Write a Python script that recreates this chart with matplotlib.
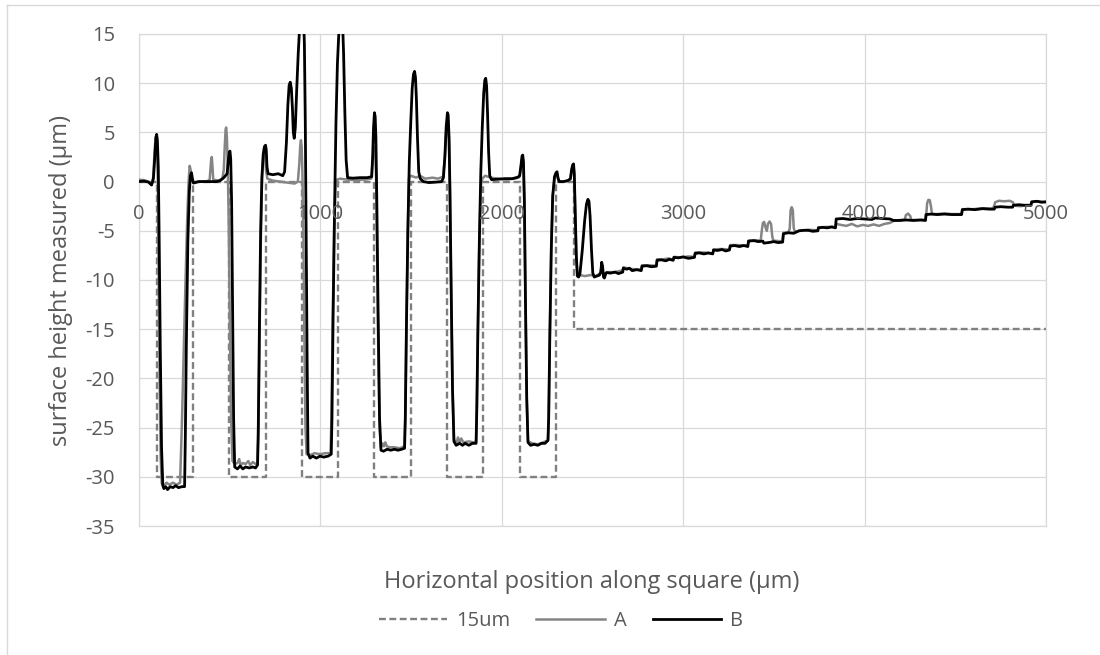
import matplotlib
matplotlib.use("Agg")
import matplotlib.pyplot as plt
from matplotlib.lines import Line2D

plt.rcParams["font.family"] = ["Open Sans", "DejaVu Sans"]

# ---- data -----------------------------------------------------------------
series_names = ["15um", "A", "B"]

# designed 15 um profile: six 30 um deep trenches, then a -15 um plateau
design_pos = [0, 100, 100, 300, 300, 500, 500, 700, 700, 900, 900, 1100, 1100,
              1300, 1300, 1500, 1500, 1700, 1700, 1900, 1900, 2100, 2100, 2300,
              2300, 2400, 2400, 5000]
design_height = [0, 0, -30, -30, 0, 0, -30, -30, 0, 0, -30, -30, 0,
                 0, -30, -30, 0, 0, -30, -30, 0, 0, -30, -30,
                 0, 0, -15, -15]

# measured profile A (position um, height um)
profile_a = [
    (0, 0.2), (30, 0.15), (55, 0.0), (72, -0.3), (82, 0.5), (88, 3), (94, 4.4), (98, 4.6),
    (102, 3.5), (106, 0.5), (110, -8), (116, -20), (122, -28), (128, -30.7), (140, -30.9),
    (155, -30.6), (170, -30.8), (190, -30.6), (210, -30.8), (229, -30.6), (240, -24),
    (255, -13), (268, -4), (276, 0), (282, 1.6), (287, 1.2), (292, 0.3), (300, -0.1),
    (340, 0.0), (380, 0.05), (392, 0.2), (397, 1.4), (401, 2.4), (404, 2.5), (408, 1.3),
    (412, 0.2), (440, 0.1), (462, 0.3), (470, 1.2), (475, 3.5), (480, 5.3), (483, 5.5),
    (487, 4.5), (492, 1.5), (497, -4), (503, -14), (510, -24), (518, -28.4), (530, -28.7),
    (545, -28.6), (555, -28.2), (562, -28.8), (575, -28.6), (590, -28.7), (605, -28.4),
    (615, -28.8), (630, -28.5), (645, -28.7), (655, -28.6), (660, -26), (666, -17),
    (673, -7), (680, 0), (686, 2.8), (692, 3.5), (696, 3.3), (702, 1.2), (710, 0.3),
    (740, 0.1), (780, 0.0), (820, -0.1), (860, -0.2), (878, 0.0), (886, 1.8), (891, 3.6),
    (895, 4.2), (899, 3.5), (903, 1.0), (908, -5), (914, -16), (920, -25), (926, -27.7),
    (945, -27.8), (970, -27.6), (1000, -27.7), (1030, -27.6), (1058, -27.6), (1063, -24),
    (1070, -14), (1078, -5), (1086, -0.5), (1094, 0.2), (1110, 0.3), (1150, 0.2),
    (1200, 0.15), (1250, 0.2), (1282, 0.3), (1290, 2), (1296, 3.3), (1301, 3.5),
    (1305, 2.8), (1309, 0.5), (1314, -6), (1320, -16), (1328, -25), (1336, -27.0),
    (1345, -26.6), (1352, -26.9), (1360, -26.5), (1368, -26.9), (1385, -27.0),
    (1410, -27.0), (1440, -27.1), (1465, -26.9), (1470, -24), (1476, -15), (1484, -5),
    (1490, 0.3), (1500, 0.6), (1515, 0.5), (1530, 0.4), (1550, 0.6), (1580, 0.3),
    (1620, 0.4), (1650, 0.3), (1678, 0.5), (1688, 2.5), (1695, 5), (1701, 6.4),
    (1706, 6.2), (1711, 4), (1716, -1), (1722, -10), (1730, -21), (1738, -26.2),
    (1752, -26.6), (1760, -26.0), (1768, -26.5), (1778, -26.1), (1790, -26.5),
    (1820, -26.4), (1845, -26.5), (1860, -26.4), (1864, -23), (1870, -15), (1878, -6),
    (1886, -0.5), (1894, 0.3), (1910, 0.6), (1940, 0.4), (1980, 0.3), (2030, 0.2),
    (2070, 0.3), (2092, 0.4), (2100, 0.5), (2107, 1.5), (2113, 2.3), (2117, 2.4),
    (2121, 1.8), (2126, -2), (2132, -12), (2139, -22), (2146, -26.4), (2170, -26.6),
    (2200, -26.7), (2230, -26.5), (2256, -26.3), (2260, -24), (2266, -16), (2274, -7),
    (2282, -1.5), (2292, 0.3), (2300, 0.7), (2306, 0.8), (2311, 0.3), (2318, 0.0),
    (2350, 0.0), (2378, 0.2), (2386, 1.0), (2392, 1.5), (2397, 1.6), (2401, 0.7),
    (2406, -3), (2412, -7.5), (2418, -9.4), (2430, -9.5), (2460, -9.6), (2490, -9.5),
    (2520, -9.6), (2545, -9.3), (2552, -8.6), (2558, -9.3), (2570, -9.5), (2580, -9.2),
    (2620, -9.2), (2650, -9.1), (2668, -9.0), (2672, -8.7), (2700, -8.85), (2730, -8.9),
    (2770, -8.95), (2774, -8.5), (2810, -8.5), (2853, -8.55), (2857, -7.9), (2890, -7.9),
    (2920, -7.8), (2946, -7.95), (2950, -7.65), (2990, -7.7), (3030, -7.6), (3063, -7.65),
    (3067, -7.2), (3110, -7.2), (3164, -7.3), (3168, -6.9), (3210, -6.85), (3256, -6.9),
    (3260, -6.45), (3300, -6.45), (3357, -6.5), (3361, -6.0), (3400, -5.95), (3428, -6.0),
    (3434, -5.0), (3440, -4.2), (3447, -4.1), (3454, -4.6), (3462, -5.0), (3468, -4.3),
    (3477, -4.05), (3485, -4.3), (3492, -5.6), (3498, -6.0), (3530, -6.05), (3549, -6.05),
    (3553, -5.2), (3580, -5.15), (3588, -4.8), (3593, -2.9), (3599, -2.6), (3605, -2.9),
    (3610, -4.7), (3616, -5.1), (3640, -5.0), (3690, -4.9), (3743, -4.95), (3746, -4.65),
    (3800, -4.6), (3840, -4.65), (3844, -4.3), (3870, -4.4), (3900, -4.5), (3930, -4.3),
    (3960, -4.55), (3990, -4.4), (4020, -4.5), (4050, -4.35), (4080, -4.5), (4110, -4.3),
    (4140, -4.2), (4165, -3.95), (4200, -3.9), (4222, -3.85), (4228, -3.4), (4240, -3.25),
    (4252, -3.5), (4258, -3.9), (4300, -3.9), (4336, -3.9), (4340, -3.4), (4345, -2.2),
    (4352, -1.85), (4360, -1.9), (4366, -2.5), (4372, -3.3), (4400, -3.3), (4440, -3.25),
    (4480, -3.3), (4535, -3.3), (4539, -2.8), (4600, -2.8), (4650, -2.7), (4700, -2.75),
    (4712, -2.6), (4720, -2.1), (4740, -1.95), (4770, -2.0), (4800, -1.95), (4818, -2.1),
    (4825, -2.45), (4860, -2.5), (4890, -2.4), (4917, -2.45), (4921, -2.1), (4960, -2.0),
    (5000, -2.1),
]

# measured profile B (position um, height um)
profile_b = [
    (0, 0.0), (30, 0.05), (55, -0.05), (72, -0.35), (82, 0.3), (90, 2.5), (96, 4.5),
    (100, 4.8), (104, 4.2), (109, 1.5), (114, -6), (120, -17), (127, -27), (134, -30.9),
    (140, -31.2), (150, -31.0), (160, -31.3), (175, -31.0), (190, -31.1), (205, -30.9),
    (220, -31.1), (240, -31.0), (254, -31.0), (258, -26), (264, -16), (272, -6), (280, -1),
    (286, 0.6), (292, 0.9), (297, 0.3), (303, -0.15), (330, 0.0), (380, 0.0), (430, 0.0),
    (450, 0.1), (470, 0.4), (488, 0.8), (495, 2.2), (500, 3.0), (504, 3.1), (508, 2.3),
    (513, -2), (518, -12), (524, -24), (530, -29.0), (545, -29.2), (560, -28.9),
    (575, -29.2), (590, -29.0), (610, -29.1), (630, -29.0), (645, -29.1), (656, -28.8),
    (660, -25), (666, -15), (673, -5), (680, 0.5), (688, 2.8), (695, 3.6), (700, 3.7),
    (704, 3.2), (708, 1.5), (714, 0.8), (740, 0.7), (770, 0.8), (795, 0.6), (805, 1.0),
    (815, 4), (823, 7.8), (830, 9.8), (836, 10.1), (842, 9.5), (848, 7.5), (853, 5),
    (858, 4.4), (864, 5.5), (872, 9.5), (880, 13), (888, 15.8), (896, 17.2), (903, 17.6),
    (909, 16.8), (914, 14), (919, 6), (924, -6), (929, -18), (934, -27.6), (945, -28.1),
    (960, -27.9), (980, -28.1), (1000, -27.9), (1020, -28.0), (1045, -27.9), (1062, -27.7),
    (1066, -24), (1072, -14), (1080, -3), (1088, 6), (1096, 12), (1104, 15.2), (1111, 16.8),
    (1118, 17.3), (1124, 16.4), (1130, 13), (1137, 7), (1144, 2.2), (1152, 0.4),
    (1180, 0.35), (1220, 0.4), (1260, 0.4), (1285, 0.5), (1290, 2.5), (1295, 5.5),
    (1300, 7.0), (1304, 6.6), (1308, 4.5), (1313, -2), (1320, -13), (1328, -24),
    (1336, -27.3), (1350, -27.4), (1370, -27.2), (1390, -27.3), (1410, -27.2),
    (1430, -27.3), (1450, -27.2), (1466, -27.1), (1470, -24), (1476, -15), (1484, -5),
    (1492, 2), (1500, 6), (1508, 9.5), (1515, 10.9), (1521, 11.2), (1526, 10.6),
    (1531, 8.5), (1537, 4.5), (1544, 1.0), (1552, 0.3), (1570, 0.0), (1600, -0.1),
    (1640, -0.05), (1670, 0.0), (1680, 0.4), (1688, 2.5), (1695, 5.5), (1702, 7.0),
    (1706, 6.8), (1711, 4.5), (1716, -1), (1722, -10), (1730, -21), (1738, -26.4),
    (1750, -26.8), (1770, -26.6), (1785, -26.8), (1800, -26.6), (1820, -26.8),
    (1840, -26.6), (1860, -26.6), (1864, -23), (1870, -15), (1878, -6), (1886, 1),
    (1894, 5.5), (1902, 9), (1908, 10.3), (1913, 10.5), (1918, 9.7), (1923, 7), (1929, 3),
    (1935, 0.6), (1945, 0.2), (1980, 0.25), (2020, 0.3), (2060, 0.3), (2090, 0.45),
    (2100, 0.6), (2107, 1.6), (2113, 2.6), (2117, 2.7), (2121, 2), (2126, -2), (2132, -12),
    (2139, -22), (2146, -26.5), (2160, -26.8), (2180, -26.7), (2200, -26.8), (2220, -26.6),
    (2240, -26.6), (2256, -26.3), (2260, -24), (2266, -16), (2274, -7), (2282, -1.5),
    (2292, 0.5), (2300, 0.9), (2306, 1.0), (2311, 0.4), (2318, 0.0), (2340, 0.0),
    (2365, 0.1), (2380, 0.3), (2386, 1.2), (2392, 1.7), (2397, 1.8), (2401, 0.8),
    (2406, -3), (2412, -7.5), (2418, -9.6), (2425, -9.7), (2432, -9.4), (2445, -7),
    (2458, -4), (2468, -2.3), (2476, -1.8), (2482, -2.0), (2488, -3.5), (2496, -7),
    (2503, -9.3), (2511, -9.7), (2525, -9.6), (2540, -9.5), (2547, -9.2), (2552, -8.2),
    (2557, -8.6), (2562, -9.7), (2567, -9.8), (2575, -9.3), (2580, -9.25), (2600, -9.3),
    (2625, -9.2), (2645, -9.35), (2668, -9.2), (2671, -8.8), (2690, -8.9), (2705, -8.8),
    (2720, -9.05), (2745, -8.95), (2770, -9.05), (2774, -8.6), (2800, -8.55), (2825, -8.65),
    (2853, -8.6), (2857, -8.0), (2880, -7.95), (2905, -8.05), (2925, -7.9), (2946, -8.0),
    (2950, -7.7), (2975, -7.75), (3000, -7.65), (3030, -7.8), (3063, -7.7), (3067, -7.3),
    (3090, -7.25), (3115, -7.35), (3140, -7.25), (3164, -7.35), (3168, -6.95), (3190, -7.0),
    (3215, -6.9), (3235, -7.05), (3256, -6.95), (3260, -6.55), (3285, -6.5), (3310, -6.6),
    (3335, -6.5), (3357, -6.6), (3361, -6.05), (3390, -6.0), (3415, -6.1), (3440, -6.05),
    (3445, -6.25), (3470, -6.2), (3500, -6.1), (3525, -6.2), (3549, -6.15), (3553, -5.3),
    (3580, -5.2), (3610, -5.25), (3640, -5.0), (3665, -4.95), (3690, -4.95), (3715, -5.05),
    (3743, -5.0), (3746, -4.7), (3770, -4.65), (3795, -4.7), (3820, -4.6), (3840, -4.7),
    (3844, -3.8), (3880, -3.75), (3920, -3.85), (3960, -3.75), (4000, -3.8), (4040, -3.85),
    (4060, -3.7), (4100, -3.75), (4140, -3.8), (4160, -3.95), (4196, -3.95), (4230, -3.9),
    (4270, -3.95), (4310, -3.9), (4336, -3.95), (4339, -3.35), (4370, -3.3), (4400, -3.35),
    (4440, -3.3), (4480, -3.35), (4535, -3.35), (4539, -2.85), (4570, -2.8), (4610, -2.85),
    (4650, -2.75), (4690, -2.8), (4715, -2.8), (4719, -2.6), (4750, -2.55), (4790, -2.6),
    (4816, -2.6), (4820, -2.4), (4850, -2.35), (4880, -2.4), (4917, -2.4), (4921, -2.05),
    (4950, -2.0), (4975, -2.1), (5000, -2.05),
]

x_ticks = [0, 1000, 2000, 3000, 4000, 5000]
y_ticks = [-35, -30, -25, -20, -15, -10, -5, 0, 5, 10, 15]
x_title = "Horizontal position along square (\u00b5m)"
y_title = "surface height measured (\u00b5m)"

# ---- figure ---------------------------------------------------------------
W, H = 1100, 655
TXT = "#595959"
GRID = "#d9d9d9"

fig = plt.figure(figsize=(W / 100, H / 100), dpi=100)
ax = fig.add_axes([138.5 / W, 1 - 526 / H, 907.5 / W, 492 / H])

a_pos, a_height = zip(*profile_a)
b_pos, b_height = zip(*profile_b)

ax.plot(design_pos, design_height, color="#808080", lw=1.7,
        dashes=(2.9, 1.5), label=series_names[0], zorder=2)
ax.plot(a_pos, a_height, color="#858585", lw=1.8, label=series_names[1],
        solid_joinstyle="round", zorder=3)
ax.plot(b_pos, b_height, color="black", lw=2.0, label=series_names[2],
        solid_joinstyle="round", zorder=4)

ax.set_xlim(0, 5000)
ax.set_ylim(-35, 15)
ax.set_xticks(x_ticks)
ax.set_xticklabels([])
ax.set_yticks(y_ticks)
ax.set_yticklabels([str(v) for v in y_ticks], color=TXT, fontsize=14.5)
ax.tick_params(length=0)
ax.tick_params(axis="y", pad=17)
ax.grid(color=GRID, lw=0.9)
ax.set_axisbelow(True)
for s in ax.spines.values():
    s.set_color(GRID)
    s.set_linewidth(0.9)

# horizontal axis crosses at 0, labels sit just under it
for v in x_ticks:
    ax.annotate(str(v), (v, 0), xytext=(0, -23.5), textcoords="offset points",
                ha="center", va="center", color=TXT, fontsize=14.5,
                annotation_clip=False, zorder=5)

fig.text(61 / W, 1 - 280 / H, y_title, rotation=90, ha="center", va="center",
         color=TXT, fontsize=17)
fig.text(592 / W, 1 - 582 / H, x_title, ha="center", va="center",
         color=TXT, fontsize=17)

handles, labels = ax.get_legend_handles_labels()
fig.legend(handles, labels, loc="center", bbox_to_anchor=(561 / W, 1 - 621 / H),
           ncol=3, frameon=False, fontsize=14.5, handlelength=3.4,
           handletextpad=0.45, columnspacing=1.3, labelcolor=TXT)

# chart area border
fig.add_artist(Line2D([7 / W, 7 / W], [0, 1 - 5 / H], transform=fig.transFigure,
                      color=GRID, lw=1.0))
fig.add_artist(Line2D([7 / W, 1], [1 - 5 / H, 1 - 5 / H], transform=fig.transFigure,
                      color=GRID, lw=1.0))

fig.savefig("out.png", dpi=100, facecolor="white")
